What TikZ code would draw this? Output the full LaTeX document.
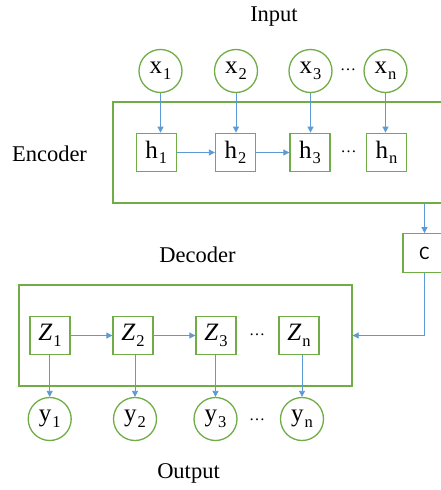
\documentclass[tikz,border=0pt]{standalone}
\usepackage{fontspec}
\setmainfont{Liberation Serif}
\newfontfamily\csans{Carlito}
\usetikzlibrary{arrows.meta}
\definecolor{gr}{HTML}{70AD47}
\definecolor{bl}{HTML}{5B9BD5}
\newcommand{\lab}[2]{#1\kern1pt\raisebox{-5.5pt}{\fontsize{16.5}{16.5}\selectfont #2}}
\tikzset{
  circ/.style={circle,draw=gr,line width=1.3pt,minimum size=43pt,inner sep=0pt,font=\fontsize{25}{25}\selectfont},
  sq/.style={rectangle,draw=gr,line width=1.3pt,minimum width=40pt,minimum height=38.5pt,inner sep=0pt,font=\fontsize{25}{25}\selectfont},
  frame/.style={rectangle,draw=gr,line width=1.3pt,inner sep=0pt},
  arr/.style={draw=bl,line width=0.8pt,-{Triangle[length=6pt,width=6pt]}},
  ttl/.style={font=\fontsize{22.5}{22.5}\selectfont,inner sep=0pt},
  dotsn/.style={font=\fontsize{16}{16}\selectfont,inner sep=0pt}
}
\begin{document}
\begin{tikzpicture}[x=1pt,y=-1pt]
\useasboundingbox (0,0) rectangle (441,490);
\clip (0,0) rectangle (441,490);
\fill[white] (0,0) rectangle (441,490);
% titles
\node[ttl] (tin) at (274,17) {Input};
\node[ttl] (tenc) at (49.5,154) {Encoder};
\node[ttl] (tdec) at (197.5,255) {Decoder};
\node[ttl] (tout) at (188.5,473) {Output};
% frames
\node[frame,minimum width=335pt,minimum height=101pt] (enc) at (280.5,152.5) {};
\node[frame,minimum width=333pt,minimum height=101pt] (dec) at (185.5,335.5) {};
\node[sq,minimum width=43pt,font=\csans\fontsize{19}{19}\selectfont] (C) at (424.5,253) {C};
% inputs
\node[circ] (x1) at (160.5,71) {\lab{x}{1}};
\node[circ] (x2) at (236,71) {\lab{x}{2}};
\node[circ] (x3) at (310.5,71) {\lab{x}{3}};
\node[circ] (xn) at (385.5,71) {\lab{x}{n}};
\node[dotsn] (xd) at (348,70) {\dots};
% hidden
\node[sq] (h1) at (156.3,152.5) {\lab{h}{1}};
\node[sq] (h2) at (235.5,152.5) {\lab{h}{2}};
\node[sq] (h3) at (310,152.5) {\lab{h}{3}};
\node[sq] (hn) at (386.5,152.5) {\lab{h}{n}};
\node[dotsn] (hd) at (348.5,152) {\dots};
% decoder states
\node[sq] (z1) at (50,335.5) {\lab{\textit{Z}}{1}};
\node[sq] (z2) at (133,335.5) {\lab{\textit{Z}}{2}};
\node[sq] (z3) at (216,335.5) {\lab{\textit{Z}}{3}};
\node[sq] (zn) at (299,335.5) {\lab{\textit{Z}}{n}};
\node[dotsn] (zd) at (257,335) {\dots};
% outputs
\node[circ] (y1) at (49.7,419) {\lab{y}{1}};
\node[circ] (y2) at (135,419) {\lab{y}{2}};
\node[circ] (y3) at (215.5,419) {\lab{y}{3}};
\node[circ] (yn) at (302,419) {\lab{y}{n}};
\node[dotsn] (yd) at (257,420) {\dots};
% arrows
\foreach \i in {1,2,3,n} {
  \draw[arr] (x\i.south) -- (x\i.south |- h\i.north);
  \draw[arr] (z\i.south -| y\i.north) -- (y\i.north);
}
\draw[arr] (h1) -- (h2);
\draw[arr] (h2) -- (h3);
\draw[arr] (z1) -- (z2);
\draw[arr] (z2) -- (z3);
\draw[arr] (enc.south -| C.north) -- (C.north);
\draw[arr] (C.south) |- (dec.east);
\end{tikzpicture}
\end{document}
